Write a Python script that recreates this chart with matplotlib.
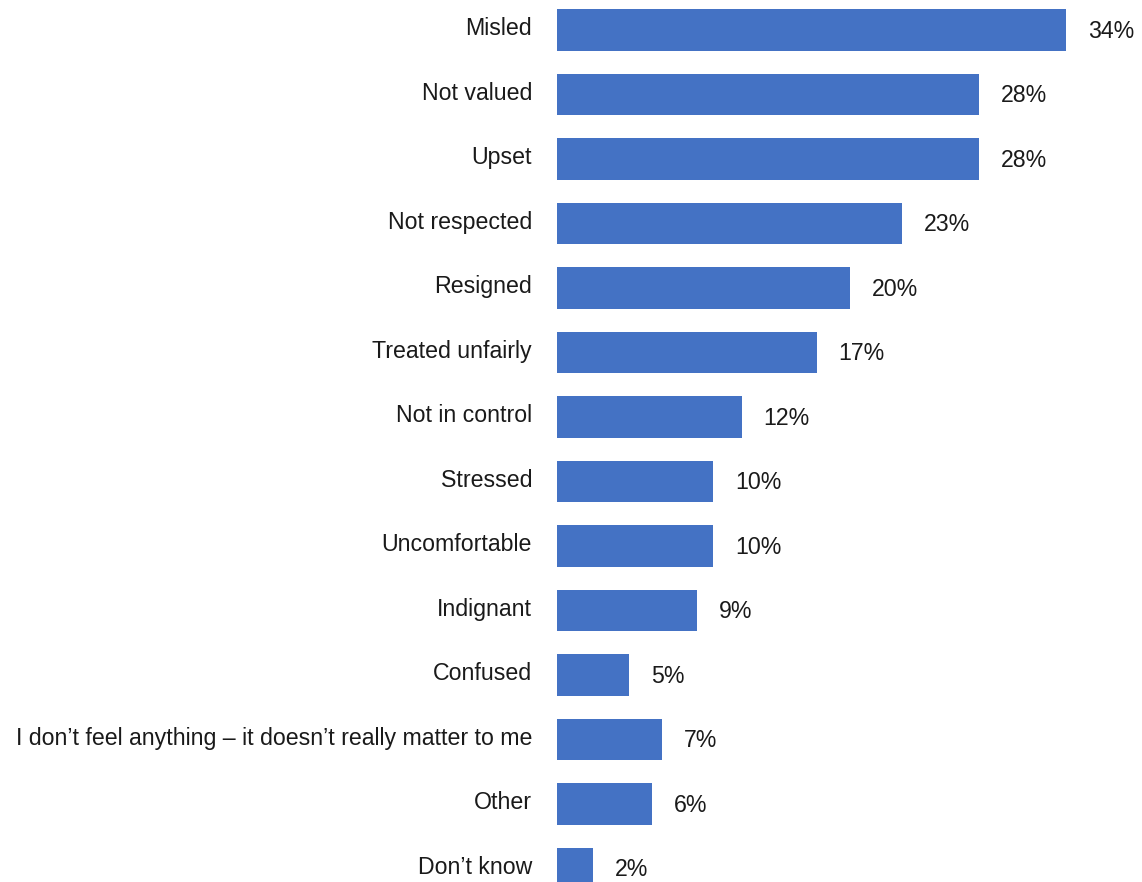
import matplotlib
matplotlib.use("Agg")
import matplotlib.pyplot as plt

# categories, top to bottom
categories = [
    "Misled",
    "Not valued",
    "Upset",
    "Not respected",
    "Resigned",
    "Treated unfairly",
    "Not in control",
    "Stressed",
    "Uncomfortable",
    "Indignant",
    "Confused",
    "I don\u2019t feel anything \u2013 it doesn\u2019t really matter to me",
    "Other",
    "Don\u2019t know",
]
# bar lengths (%)
values = [33.9, 28.1, 28.1, 23.0, 19.5, 17.3, 12.3, 10.4, 10.4, 9.3, 4.8, 7.0, 6.3, 2.4]
# printed labels
labels = ["34%", "28%", "28%", "23%", "20%", "17%", "12%", "10%", "10%", "9%", "5%", "7%", "6%", "2%"]

plt.rcParams['font.family'] = ['Liberation Sans', 'DejaVu Sans']
txt_color = "#1a1a1a"
fs = 16.7

fig = plt.figure(figsize=(11.42, 8.82), dpi=100)
ax = fig.add_axes([557 / 1142, 0, 1 - 557 / 1142, 1])

pos = list(range(len(categories)))
ax.barh(pos, values, height=0.65, color="#4472C4")

ax.set_xlim(0, 39)
ax.set_ylim(13.209, -0.465)

for y, v, lab in zip(pos, values, labels):
    ax.annotate(lab, xy=(v, y), xytext=(16, -1), textcoords="offset points",
                ha="left", va="center", fontsize=fs, color=txt_color)

for y, cat in zip(pos, categories):
    ax.annotate(cat, xy=(0, y), xytext=(-18, 1), textcoords="offset points",
                ha="right", va="center", fontsize=fs, color=txt_color,
                annotation_clip=False)

ax.set_xticks([])
ax.set_yticks([])
for s in ax.spines.values():
    s.set_visible(False)

fig.savefig("out.png", dpi=100)
